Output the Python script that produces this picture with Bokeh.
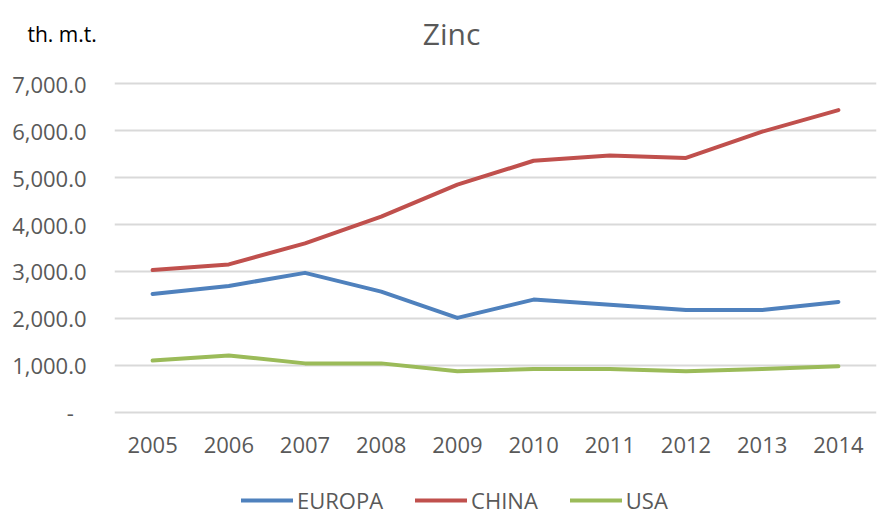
from bokeh.plotting import figure
from bokeh.layouts import column
from bokeh.models import (FactorRange, Range1d, FixedTicker, CustomJSTickFormatter,
                          Legend, LegendItem)
from bokeh.core.properties import value
from bokeh.embed import file_html
from bokeh.resources import INLINE

years = ["2005", "2006", "2007", "2008", "2009", "2010", "2011", "2012", "2013", "2014"]
europa = [2520, 2690, 2970, 2570, 2010, 2400, 2290, 2180, 2180, 2350]
china = [3030, 3150, 3600, 4170, 4850, 5360, 5470, 5420, 5980, 6440]
usa = [1100, 1210, 1040, 1040, 870, 920, 920, 870, 920, 980]
y_ticks = [0, 1000, 2000, 3000, 4000, 5000, 6000, 7000]
title_text = "Zinc"
unit_text = "th. m.t."

FONT = "Open Sans"
GRAY = "#595959"
W = 878
colors = {"EUROPA": "#4F81BD", "CHINA": "#C0504D", "USA": "#9BBB59"}


def bare(fig):
    fig.axis.visible = False
    fig.grid.visible = False
    fig.outline_line_color = None
    if "frame_align" in fig.properties():
        fig.frame_align = False


# header strip holding the unit label and the title
HEAD_H = 48
head = figure(width=W, height=HEAD_H, x_range=Range1d(0, W), y_range=Range1d(HEAD_H, 0),
              min_border=0, output_backend="svg", toolbar_location=None)
bare(head)
head.text(x=[27], y=[33], text=[unit_text], text_font=value(FONT), text_font_size="21px",
          text_color="black", text_align="left", text_baseline="alphabetic")
head.text(x=[451], y=[33], text=[title_text], text_font=value(FONT), text_font_size="30px",
          text_color=GRAY, text_align="center", text_baseline="alphabetic")

# main chart
p = figure(x_range=FactorRange(*years, range_padding=0),
           y_range=Range1d(-50, 7050),
           frame_width=762, frame_height=333,
           min_border_left=114, min_border_right=2, min_border_top=81 - HEAD_H,
           min_border_bottom=50,
           output_backend="svg", toolbar_location=None)
p.outline_line_color = None
if "frame_align" in p.properties():
    p.frame_align = False

series = [("EUROPA", europa), ("CHINA", china), ("USA", usa)]
for name, vals in series:
    p.line(years, vals, line_color=colors[name], line_width=4, line_cap="round", line_join="round")

p.xgrid.grid_line_color = None
p.ygrid.grid_line_color = "#D9D9D9"
p.ygrid.grid_line_width = 2
p.yaxis.ticker = FixedTicker(ticks=y_ticks)
p.yaxis.formatter = CustomJSTickFormatter(code="""
if (tick == 0) { return "-\u2007"; }
var s = Math.round(tick).toString().replace(/\\B(?=(\\d{3})+(?!\\d))/g, ",");
return s + ".0";
""")
for ax in (p.xaxis, p.yaxis):
    ax.axis_line_color = None
    ax.major_tick_line_color = None
    ax.minor_tick_line_color = None
    ax.major_label_text_font = FONT
    ax.major_label_text_font_size = "22px"
    ax.major_label_text_color = GRAY
p.yaxis.major_label_standoff = 22
p.xaxis.major_label_standoff = 16

# footer strip holding the legend (proxy lines carry only NaN, so nothing is drawn there)
foot = figure(width=W, height=51, x_range=Range1d(0, 1), y_range=Range1d(0, 1),
              min_border=0, output_backend="svg", toolbar_location=None)
bare(foot)
nan = float("nan")
items = []
for name, _ in series:
    r = foot.line(x=[nan, nan], y=[nan, nan], line_color=colors[name], line_width=4,
                  line_cap="round")
    items.append(LegendItem(label=name, renderers=[r]))
legend = Legend(items=items, orientation="horizontal", location=(241, 0),
                label_text_font=FONT, label_text_font_size="22px", label_text_color=GRAY,
                glyph_width=52, glyph_height=20, label_standoff=4, spacing=32,
                border_line_color=None, background_fill_alpha=0, margin=0, padding=0)
foot.add_layout(legend, "center")

layout = column(head, p, foot, spacing=0)
open("out.html", "w").write(file_html(layout, INLINE))
